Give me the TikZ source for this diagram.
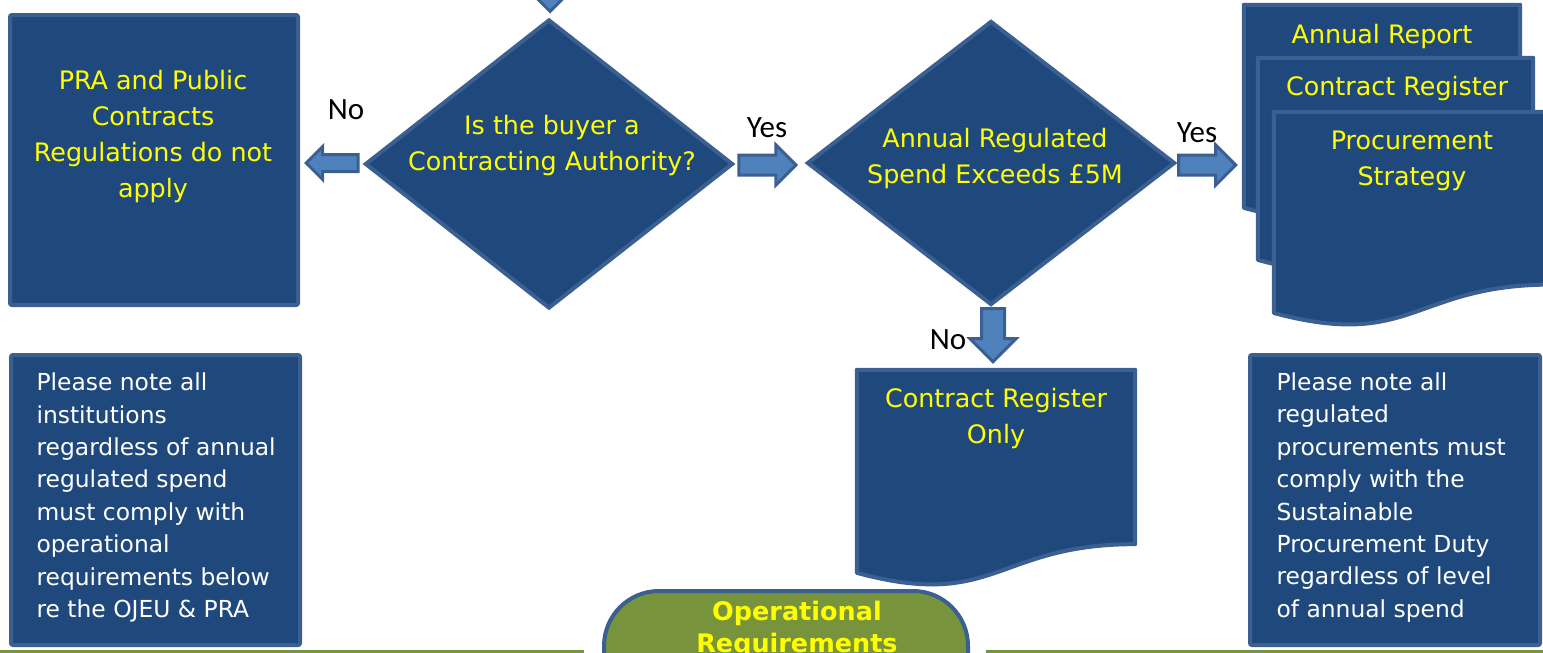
\documentclass[tikz,border=0pt]{standalone}
\usepackage{fontspec}
\setmainfont{DejaVu Sans}
\newfontfamily\yesnofont{Carlito}
\usetikzlibrary{shapes.geometric,shapes.arrows,calc,positioning}

\definecolor{boxblue}{HTML}{1F497D}
\definecolor{edgeblue}{HTML}{3A5F90}
\definecolor{arrowblue}{HTML}{4F81BD}
\definecolor{opgreen}{HTML}{77933C}
\definecolor{flowyellow}{HTML}{FFFF00}

% wavy document outline round an (invisible) node
\newcommand{\docoutline}[1]{%
	\draw[docline] (#1.north west) -- (#1.north east)
		-- ($(#1.north east)!0.802!(#1.south east)$)
		.. controls ($(#1.north)!0.802!(#1.south)$) and ($(#1.north)!1.107!(#1.south)$)
		.. ($(#1.north west)!0.934!(#1.south west)$) -- cycle;}

\begin{document}
\begin{tikzpicture}[x=1pt,y=-1pt,
		box/.style={draw=edgeblue, fill=boxblue, line width=4pt, rounded corners=2pt, inner sep=0pt},
		decision/.style={diamond, draw=edgeblue, fill=boxblue, line width=4pt, inner sep=0pt},
		docbox/.style={inner sep=0pt},
		docline/.style={draw=edgeblue, fill=boxblue, line width=4pt, line join=round},
		blockarrow/.style={single arrow, draw=edgeblue, fill=arrowblue, line width=3pt,
			single arrow head extend=#1, anchor=tip},
		harrow/.style 2 args={blockarrow=#2, inner xsep=0pt, inner ysep=#1},
		varrow/.style 2 args={blockarrow=#2, inner ysep=0pt, inner xsep=#1, shape border rotate=270},
		opbox/.style={draw=edgeblue, fill=opgreen, line width=4pt, rounded corners=55pt, inner sep=0pt},
		flowtext/.style={text=flowyellow, align=center, font=\fontsize{25.4}{36}\selectfont},
		optext/.style={text=flowyellow, align=center, font=\bfseries\fontsize{25.5}{32}\selectfont},
		notetext/.style={text=white, align=left, anchor=west, font=\fontsize{23.4}{32.4}\selectfont},
		yesno/.style={font=\yesnofont\fontsize{31}{36}\selectfont},
	]
	\useasboundingbox (0,0) rectangle (1543,653);
	%
	\node[box, minimum width=288pt, minimum height=290pt] (pra) at (154,160) {};
	\node[decision, minimum width=368pt, minimum height=289pt] (buyer) at (549,164) {};
	\node[decision, minimum width=368pt, minimum height=284pt] (spend) at (991,163) {};
	\node[docbox, minimum width=278pt, minimum height=217pt] (cronly) at (996,478.5) {};
	\node[docbox, minimum width=276pt, minimum height=217pt] (annual) at (1382,113.5) {};
	\node[docbox, minimum width=275pt, minimum height=216pt] (register) at (1395.5,166) {};
	\node[docbox, minimum width=278pt, minimum height=215pt] (strategy) at (1413,219.5) {};
	\docoutline{cronly}
	\docoutline{annual}
	\docoutline{register}
	\docoutline{strategy}
	%
	\node[flowtext] (pratext) at (153,136) {PRA and Public\\Contracts\\Regulations do not\\apply};
	\node[flowtext] (buyertext) at (552,145) {Is the buyer a\\Contracting Authority?};
	\node[flowtext] (spendtext) at (995,158.5) {Annual Regulated\\Spend Exceeds £5M};
	\node[flowtext] (cronlytext) at ($(cronly.north)+(0,49)$) {Contract Register\\Only};
	\node[flowtext] (annualtext) at ($(annual.north)+(0,32)$) {Annual Report};
	\node[flowtext] (registertext) at ($(register.north)+(1.5,31)$) {Contract Register};
	\node[flowtext] (strategytext) at ($(strategy.north)+(-1,49.5)$) {Procurement\\Strategy};
	%
	\node[varrow={8.5pt}{8pt}, minimum height=40pt] (inarrow) at ($(buyer.north)+(1,-4)$) {};
	\node[harrow={7pt}{8pt}, minimum height=52pt, shape border rotate=180] (noarrow) at ($(pra.east)+(4,3)$) {};
	\node[harrow={8.5pt}{10pt}, minimum height=57pt] (yesarrow) at ($(spend.west)+(-7,2)$) {};
	\node[harrow={8.5pt}{10pt}, minimum height=57pt] (yesarrowb) at ($(annual.west |- spend.east)+(-6,2)$) {};
	\node[varrow={10pt}{11.5pt}, minimum height=53pt] (noarrowb) at ($(spend.south |- cronly.north)+(2,-6)$) {};
	\node[yesno] (nolabel) at (346,110) {No};
	\node[yesno] (yeslabel) at (767,128) {Yes};
	\node[yesno] (yeslabelb) at (1197,133) {Yes};
	\node[yesno] (nolabelb) at (948,340) {No};
	%
	\node[box, minimum width=289pt, minimum height=290pt] (noteleft) at (155.5,500) {};
	\node[box, minimum width=290pt, minimum height=290pt] (noteright) at (1395,500) {};
	\node[notetext] (notelefttext) at (33,497.5) {Please note all\\institutions\\regardless of annual\\regulated spend\\must comply with\\operational\\requirements below\\re the OJEU \& PRA};
	\node[notetext] (noterighttext) at (1273,497.5) {Please note all\\regulated\\procurements must\\comply with the\\Sustainable\\Procurement Duty\\regardless of level\\of annual spend};
	%
	\node[opbox, minimum width=364pt, minimum height=120pt] (ops) at (786,651) {};
	\node[optext] (opstext) at (797,629) {Operational\\Requirements};
	\coordinate (lineleft) at (0,651.5);
	\coordinate (lineright) at (1543,651.5);
	\draw[opgreen, line width=3pt] (lineleft) -- ($(ops.west)+(-18,0.5)$);
	\draw[opgreen, line width=3pt] ($(ops.east)+(16,0.5)$) -- (lineright);
\end{tikzpicture}
\end{document}
